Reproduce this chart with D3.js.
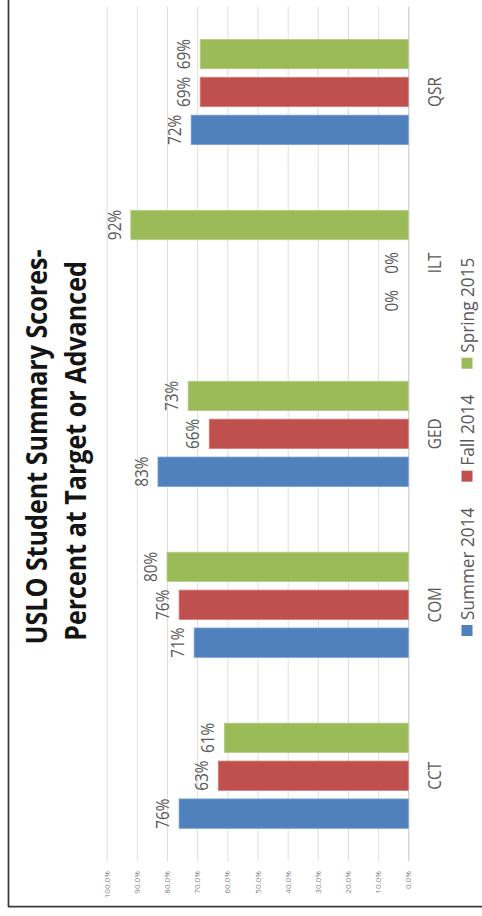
<!DOCTYPE html>
<html>
<head>
<meta charset="utf-8">
<script src="https://cdn.jsdelivr.net/npm/d3@7"></script>
<style>
  body { margin: 0; background: #fff; }
  svg { display: block; font-family: "Open Sans", sans-serif; }
</style>
</head>
<body>
<div id="chart"></div>
<script>
// Chart data
const categories = ["CCT", "COM", "GED", "ILT", "QSR"];
const seriesNames = ["Summer 2014", "Fall 2014", "Spring 2015"];
const summer2014 = [0.76, 0.71, 0.83, 0.00, 0.72];
const fall2014 = [0.63, 0.76, 0.66, 0.00, 0.69];
const spring2015 = [0.61, 0.80, 0.73, 0.92, 0.69];
const valueTicks = [0, 0.1, 0.2, 0.3, 0.4, 0.5, 0.6, 0.7, 0.8, 0.9, 1.0];
const titleLines = ["USLO Student Summary Scores-", "Percent at Target or Advanced"];

const seriesValues = [summer2014, fall2014, spring2015];
const colors = ["#4f81bd", "#c0504d", "#9bbb59"];
const strokes = ["#7b9fcf", "#d27e7c", "#b5cd88"];

const SW = 482, SH = 916;   // screen size
const K = 0.83;             // horizontal squeeze of the text (the original is squashed)

const svg = d3.select("#chart").append("svg")
    .attr("width", SW)
    .attr("height", SH);

svg.append("rect").attr("width", SW).attr("height", SH).attr("fill", "#fff");

// the whole chart is a column chart turned a quarter turn to the left
const g = svg.append("g").attr("transform", "translate(0," + SH + ") rotate(-90)");

// scales (in the unrotated frame)
const x0 = d3.scaleBand().domain(categories).range([54.8, 909.5]);
const x1 = d3.scaleBand().domain(seriesNames)
    .range([32.9, x0.bandwidth() - 32.9])
    .paddingInner(0.225);
const y = d3.scaleLinear().domain([0, 1]).range([408.3, 106.7]);

function squeeze(sel, ux, uy, k) {
    sel.attr("transform", function(d, i) {
        return "translate(" + ux(d, i) + "," + uy(d, i) + ") scale(" + (k || K) + ",1)";
    });
}

// gridlines + value labels
const axis = g.append("g")
    .attr("transform", "translate(54.8,0)")
    .call(d3.axisLeft(y)
        .tickValues(valueTicks)
        .tickFormat(d3.format(".1%"))
        .tickSizeInner(-(909.5 - 54.8))
        .tickSizeOuter(0)
        .tickPadding(10));
axis.select(".domain").remove();
axis.selectAll(".tick line")
    .attr("stroke", function(d) { return d === 0 ? "#c4c4c4" : "#dedede"; })
    .attr("stroke-width", 1);
axis.selectAll(".tick text")
    .attr("font-family", "Open Sans, sans-serif")
    .attr("font-size", 8)
    .attr("fill", "#7f7f7f");

// bars
const groups = g.selectAll(".cat")
    .data(categories)
    .enter()
    .append("g")
    .attr("class", "cat")
    .attr("transform", function(c) { return "translate(" + x0(c) + ",0)"; });

const cells = groups.selectAll("rect")
    .data(function(c, ci) {
        return seriesNames.map(function(s, si) {
            return { cat: c, series: s, si: si, value: seriesValues[si][ci] };
        });
    });

cells.enter()
    .append("rect")
    .attr("x", function(d) { return x1(d.series); })
    .attr("y", function(d) { return y(d.value); })
    .attr("width", x1.bandwidth())
    .attr("height", function(d) { return y(0) - y(d.value); })
    .attr("fill", function(d) { return colors[d.si]; })
    .attr("stroke", function(d) { return d.value > 0 ? strokes[d.si] : "none"; })
    .attr("stroke-width", 0.8);

// data labels
groups.selectAll(".lbl")
    .data(function(c, ci) {
        return seriesNames.map(function(s, si) {
            return { series: s, value: seriesValues[si][ci] };
        });
    })
    .enter()
    .append("text")
    .attr("class", "lbl")
    .attr("text-anchor", "middle")
    .attr("font-size", 18.5)
    .attr("fill", "#595959")
    .text(function(d) { return d3.format(".0%")(d.value); })
    .call(squeeze,
        function(d) { return x1(d.series) + x1.bandwidth() / 2; },
        function(d) { return y(d.value) - 10; });

// category labels
g.selectAll(".catlbl")
    .data(categories)
    .enter()
    .append("text")
    .attr("class", "catlbl")
    .attr("text-anchor", "middle")
    .attr("font-size", 18.5)
    .attr("fill", "#595959")
    .text(function(d) { return d; })
    .call(squeeze,
        function(d) { return x0(d) + x0.bandwidth() / 2; },
        function() { return 441; });

// title
g.selectAll(".title")
    .data(titleLines)
    .enter()
    .append("text")
    .attr("class", "title")
    .attr("text-anchor", "middle")
    .attr("font-size", 29)
    .attr("font-weight", "bold")
    .attr("fill", "#141414")
    .text(function(d) { return d; })
    .call(squeeze,
        function(d, i) { return 469 - i * 4; },
        function(d, i) { return 47.3 + i * 38.7; },
        0.865);

// legend
var LK = 0.93;
var lx = 280;
seriesNames.forEach(function(s, i) {
    g.append("rect")
        .attr("x", lx)
        .attr("y", 461.5)
        .attr("width", 11)
        .attr("height", 11)
        .attr("fill", colors[i]);
    var t = g.append("text")
        .attr("font-size", 18.5)
        .attr("fill", "#595959")
        .attr("transform", "translate(" + (lx + 16) + ",474) scale(" + LK + ",1)")
        .text(s);
    lx += 16 + t.node().getComputedTextLength() * LK + 26;
});

// chart frame (left and bottom edges only are visible)
svg.append("line")
    .attr("x1", 8.5).attr("y1", 0)
    .attr("x2", 8.5).attr("y2", 907)
    .attr("stroke", "#3a3a3a").attr("stroke-width", 1.75);
svg.append("line")
    .attr("x1", 8).attr("y1", 906.5)
    .attr("x2", SW).attr("y2", 906.5)
    .attr("stroke", "#3a3a3a").attr("stroke-width", 1.75);
</script>
</body>
</html>
